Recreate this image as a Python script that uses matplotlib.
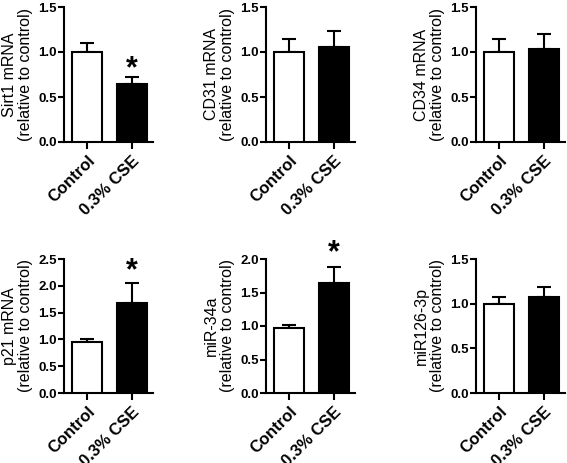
import numpy as np
import matplotlib.pyplot as plt

plt.rcParams['font.family'] = ['Liberation Sans', 'DejaVu Sans']

groups = ['Control', '0.3% CSE']
ylabels = ['Sirt1 mRNA', 'CD31 mRNA', 'CD34 mRNA', 'p21 mRNA', 'miR-34a', 'miR126-3p']
means = [[1.00, 0.64], [1.00, 1.06], [1.00, 1.03], [0.96, 1.67], [0.965, 1.64], [1.00, 1.08]]
errs = [[0.10, 0.08], [0.14, 0.17], [0.15, 0.17], [0.05, 0.39], [0.05, 0.24], [0.07, 0.11]]
ymax = [1.5, 1.5, 1.5, 2.5, 2.0, 1.5]
ystep = [0.5, 0.5, 0.5, 0.5, 0.5, 0.5]
star = [True, False, False, True, True, False]
star_y = [0.81, None, None, 2.27, 2.08, None]

W, H = 567, 463
fig = plt.figure(figsize=(W / 100, H / 100), dpi=100)
lefts = [64, 266, 476]
rows = [(7, 142), (259, 393)]
aw = 89

for i in range(6):
    r, c = divmod(i, 3)
    top, bot = rows[r]
    ax = fig.add_axes([lefts[c] / W, 1 - bot / H, aw / W, (bot - top) / H])
    x = np.arange(2)
    ax.bar(x, means[i], width=0.68, color=['white', 'black'], edgecolor='black',
           linewidth=1.5, zorder=3)
    ax.errorbar(x, means[i], yerr=[[0, 0], errs[i]], fmt='none', ecolor='black',
                elinewidth=1.5, capsize=5, capthick=1.5, zorder=2)
    ax.set_xlim(-0.52, 1.48)
    ax.set_ylim(0, ymax[i])
    ticks = np.arange(0, ymax[i] + 0.01, ystep[i])
    ax.set_yticks(ticks)
    ax.set_yticklabels(['%.1f' % v for v in ticks], fontsize=9.5, fontweight='bold')
    ax.set_xticks(x)
    ax.set_xticklabels(groups, rotation=45, ha='right', rotation_mode='anchor',
                       fontsize=12, fontweight='bold')
    for s in ['top', 'right']:
        ax.spines[s].set_visible(False)
    for s in ['left', 'bottom']:
        ax.spines[s].set_linewidth(1.5)
    ax.tick_params(width=1.5, length=4, pad=1)
    ax.tick_params(axis='x', length=5, pad=3)
    ax.set_ylabel(ylabels[i] + '\n(relative to control)', fontsize=11.5, labelpad=4,
                  linespacing=1.05)
    if star[i]:
        ax.text(1, star_y[i], '*', ha='center', va='center', fontsize=22,
                fontweight='bold', clip_on=False)

fig.savefig('out.png', dpi=100)
